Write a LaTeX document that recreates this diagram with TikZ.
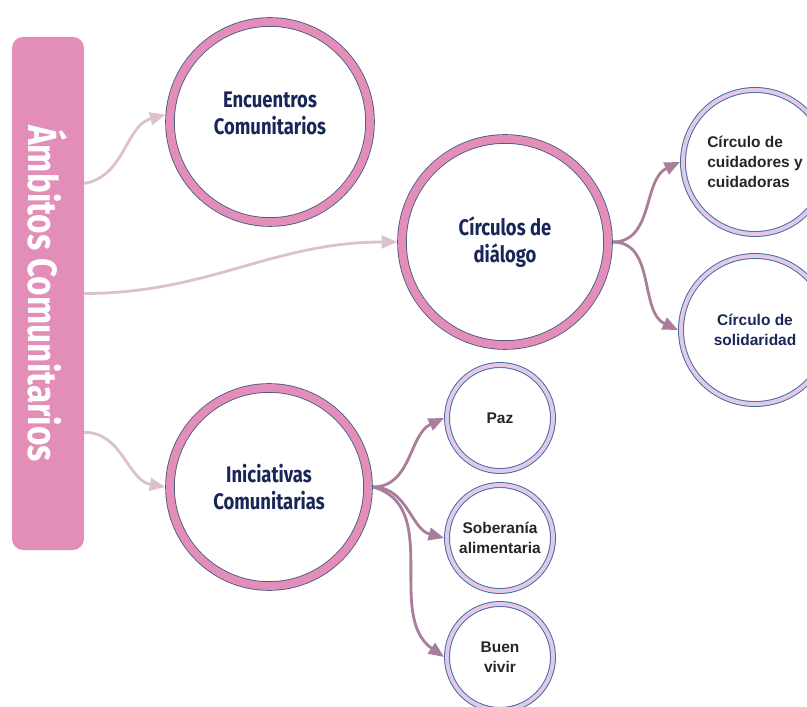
\documentclass[tikz,border=0pt]{standalone}
\usepackage{fontspec}
\setmainfont{Liberation Sans}
\newfontfamily\condensed{Fira Sans}[FakeStretch=0.82]
\usetikzlibrary{arrows.meta,positioning}
\definecolor{rosa}{RGB}{226,142,184}
\definecolor{lavanda}{RGB}{228,200,228}
\definecolor{ringedge}{RGB}{70,90,130}
\definecolor{smalledge}{RGB}{68,108,170}
\definecolor{navy}{RGB}{25,38,88}
\definecolor{lightlink}{RGB}{220,192,204}
\definecolor{darklink}{RGB}{168,126,154}

\begin{document}
\begin{tikzpicture}[x=0.025cm, y=-0.025cm,
    big circle/.style={circle, draw=ringedge, line width=0.6pt,
        double=rosa, double distance=5.6pt, fill=white, outer sep=3.4pt,
        align=center, text=navy,
        font=\condensed\bfseries\fontsize{16}{19}\selectfont},
    small circle/.style={circle, draw=smalledge, line width=0.7pt,
        double=lavanda, double distance=2.8pt, fill=white, outer sep=2.1pt,
        align=center, text=black!85,
        font=\bfseries\fontsize{11}{14}\selectfont},
    light link/.style={draw=lightlink, line width=2pt,
        -{Triangle[length=11pt,width=9pt]}},
    dark link/.style={draw=darklink, line width=2pt,
        -{Triangle[length=11pt,width=9pt]}}
]
    \useasboundingbox (0,0) rectangle (807,707);

    \node (main box) [fill=rosa, rounded corners=8pt,
        minimum width=1.8cm, minimum height=12.825cm] at (48,293.5) {};
    \node (main title) [rotate=-90, text=white,
        font=\condensed\bfseries\fontsize{29}{32}\selectfont]
        at (main box.center) {Ámbitos Comunitarios};

    \node (encuentros) [big circle, minimum size=5cm] at (270,122)
        {Encuentros\\Comunitarios\\[-6pt]};
    \node (circulos) [big circle, minimum size=5.15cm] at (505,242)
        {Círculos de\\diálogo};
    \node (iniciativas) [big circle, minimum size=4.95cm] at (269,487)
        {Iniciativas\\Comunitarias};

    \node (cuidadores) [small circle, minimum size=3.6cm, align=left] at (755,162)
        {Círculo de\\cuidadores y\\cuidadoras};
    \node (solidaridad) [small circle, minimum size=3.7cm, text=navy] at (755,330)
        {Círculo de\\solidaridad};

    \node (paz) [small circle, minimum size=2.65cm] at (500,418) {Paz};
    \node (soberania) [small circle, minimum size=2.65cm] at (500,538)
        {Soberanía\\alimentaria};
    \node (buen vivir) [small circle, minimum size=2.65cm] at (500,657)
        {Buen\\vivir};

    \draw[light link] ([yshift=2.75cm]main box.east) to[out=10, in=195] (encuentros.176);
    \draw[light link] (main box.east) to[out=0, in=180] (circulos.west);
    \draw[light link] ([yshift=-3.47cm]main box.east) to[out=0, in=170] (iniciativas.west);

    \draw[dark link] (circulos.east) to[out=0, in=205] (cuidadores.west);
    \draw[dark link] (circulos.east) to[out=0, in=155] (solidaridad.west);

    \draw[dark link] (iniciativas.east) to[out=0, in=205] (paz.west);
    \draw[dark link] (iniciativas.east) to[out=0, in=165] (soberania.west);
    \draw[dark link] (iniciativas.east) to[out=-15, in=145] (buen vivir.west);
\end{tikzpicture}
\end{document}
